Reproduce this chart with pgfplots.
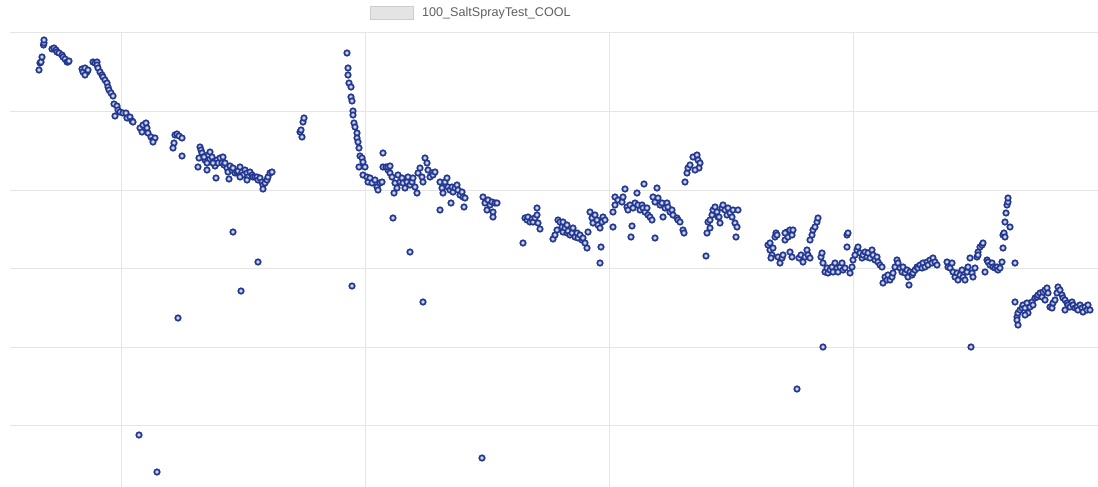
\documentclass[border=0pt]{standalone}
\usepackage{pgfplots}
\pgfplotsset{compat=1.18}
\usepackage{fontspec}
\setmainfont{Liberation Sans}
\definecolor{gridc}{RGB}{229,229,229}
\definecolor{markd}{RGB}{35,55,145}
\definecolor{markf}{RGB}{205,215,240}
\definecolor{legf}{RGB}{228,228,228}
\definecolor{legd}{RGB}{205,205,205}
\definecolor{legt}{RGB}{95,95,95}
\begin{document}
\begin{tikzpicture}
\useasboundingbox (-5pt,0pt) rectangle (544pt,243.5pt);
\begin{axis}[
  at={(0pt,0pt)}, anchor=south west,
  scale only axis, width=544pt, height=227pt,
  xmin=10, xmax=1098, ymin=33, ymax=487, y dir=reverse,
  axis line style={draw=none},
  xtick={121,365,609,853}, ytick={33,111.5,190,268.5,347,425.5},
  xticklabels={}, yticklabels={}, major tick length=0pt,
  grid=major, grid style={gridc, line width=0.5pt},
  legend style={at={(axis cs:370,13)}, anchor=west, draw=none, fill=none,
    inner sep=0pt, font=\fontsize{6.3pt}{7.5pt}\selectfont\color{legt},
    /tikz/every even column/.append style={column sep=0pt}},
  legend cell align=left,
  clip=false,
]
\addplot[only marks, mark=*, mark size=1.35pt,
  mark options={draw=markd, fill=markf, line width=0.85pt},
  legend image code/.code={\draw[legd, fill=legf, line width=0.4pt] (0pt,-3.3pt) rectangle (21.5pt,3.3pt);}]
coordinates {
(39,70)(40,63)(41,62)(42,57)(43.5,45)(44,43)(44,40)
(52,49)(54,48)(56,50)(57,52)(59,53)(62,55)(63,57)(65,59)(67,62)(68,62)(69,61)
(82,69)(83,72)(85,68)(87,72)(88,70)(85,75)
(93,62)(95,63)(97,62)(97,65)(98,68)(100,72)(102,75)(103,77)(105,80)(107,83)(108,87)(109,90)(111,93)(113,96)
(114,104)(117,106)(115,116)(118,110)(120,112)(123,113)(126,113)(127,118)(130,117)(132,121)(133,122)
(140,128)(142,132)(143,125)(146,123)(147,128)(148,133)(151,137)(153,140)(155,138)(153,142)
(175,135)(177,134)(179,136)(182,138)(174,143)(173,148)(182,156)
(200,147)(201,150)(202,153)(203,157)(199,158)(198,167)(205,160)(207,163)(208,155)(210,152)(212,157)(213,162)
(207,170)(215,166)(217,160)(218,163)(220,158)(222,163)(223,157)(224,165)(216,178)(227,168)(228,172)(230,166)
(232,170)(233,168)(235,173)(237,172)(238,171)(240,167)(242,172)(243,175)(245,170)(247,173)(248,177)(250,172)
(252,175)(253,177)(255,177)(257,177)(258,180)(260,178)(262,182)(263,185)(263,189)(265,183)(267,180)(268,177)
(270,173)(272,172)(229,179)(240,177)(247,180)(204,157)(213,163)(225,163)
(233,232)(241,291)(258,262)(178,318)(139,435)(157,472)
(300,132)(301,130)(302,137)(303,122)(304,118)
(347,53)(348,68)(348,75)(349,83)(351,87)(351,97)(352,101)(353,111)(353,115)(354,123)(355,127)(357,133)(357,138)
(358,142)(359,148)(360,156)(362,158)(359,167)(363,162)(365,167)(363,175)(367,177)(368,182)(370,178)(372,183)
(375,180)(377,187)(378,190)(380,183)(382,182)(383,153)(383,167)(386,167)(388,170)(390,173)(392,177)(388,167)
(390,166)(395,183)(394,193)(397,188)(398,175)(400,182)(402,178)(403,183)(405,188)(407,182)(408,177)(410,185)
(412,182)(413,178)(415,187)(417,193)(418,173)(420,168)(422,177)(423,182)(425,158)(427,163)(428,170)(430,177)
(432,173)(433,175)(435,172)(393,218)(440,182)(440,210)(410,252)(352,286)(423,302)(482,458)
(442,188)(443,193)(445,182)(447,178)(448,187)(450,190)(452,187)(453,192)(455,188)(457,185)(458,190)(460,195)
(462,192)(463,197)(465,198)(451,203)(464,207)
(483,197)(485,203)(487,210)(488,200)(490,205)(492,202)(493,212)(495,203)(497,203)(493,217)
(523,243)(525,218)(527,220)(528,217)(530,222)(532,219)(533,222)(535,218)(537,215)(537,208)(538,223)(540,229)
(553,239)(555,235)(557,230)(558,220)(560,222)(562,227)(563,232)(565,228)(567,233)(568,231)(570,235)(572,233)
(573,228)(575,237)(577,233)(578,238)(580,235)(582,240)(583,238)(585,243)(587,248)(588,232)(563,222)(567,225)
(590,212)(592,218)(593,223)(595,215)(597,220)(598,225)(600,228)(602,222)(603,217)(605,220)(601,247)(600,263)
(613,227)(613,212)(615,205)(615,197)(618,200)(622,202)(623,197)(625,189)(627,207)(628,210)(630,205)(632,226)
(631,237)(633,208)(635,203)(637,193)(638,205)(640,210)(642,205)(643,208)(645,212)(647,208)(648,215)(650,217)
(652,220)(644,184)(653,197)(655,202)(657,188)(658,198)(660,205)(662,203)(663,217)(655,238)(665,208)(667,203)
(668,207)(670,212)(672,210)(673,215)(677,218)(678,220)(680,222)(683,230)(684,233)
(685,182)(687,173)(688,168)(690,165)(693,157)(697,155)(698,160)(700,163)(699,168)(695,170)
(706,256)(707,233)(708,222)(710,220)(712,215)(713,210)(715,207)(717,212)(718,217)(720,223)(722,208)(723,205)
(725,210)(727,215)(728,208)(730,213)(732,217)(733,210)(735,223)(737,227)(738,210)(736,237)(710,228)(719,217)
(768,245)(770,250)(772,255)(771,258)(773,248)(775,237)(776,233)(778,257)(780,263)(782,258)(783,255)(785,240)
(787,232)(788,237)(790,230)(792,235)(793,230)(790,252)(792,257)(799,258)(801,255)(803,262)(805,257)(807,250)
(808,255)(810,240)(812,235)(813,230)(815,227)(817,222)(818,218)(810,258)(770,243)(777,235)(785,233)
(821,257)(822,253)(823,263)(825,272)(827,268)(828,273)(830,270)(832,267)(833,272)(835,263)(837,268)(838,272)
(840,267)(842,263)(843,270)(845,268)(847,235)(847,247)(848,233)(850,273)(852,267)(853,260)(855,255)(857,250)
(858,247)(860,253)(862,258)(863,255)(865,252)(867,257)(868,253)(870,258)(872,250)(873,255)(875,260)(877,257)
(878,262)(880,265)(882,267)(885,277)(883,283)(887,280)
(797,389)(823,347)(971,347)
(888,275)(890,280)(892,277)(893,273)(895,267)(897,260)(898,263)(900,268)(902,272)(903,267)(905,273)(907,270)
(908,277)(909,285)(910,272)(912,275)(913,273)(915,270)(917,267)(918,268)(920,265)(922,268)(923,263)(925,267)
(927,262)(928,265)(930,260)(932,263)(933,258)(935,262)(937,265)
(947,262)(948,267)(950,268)(952,263)(953,272)(955,277)(957,273)(958,280)(960,275)(962,270)(963,277)(965,280)
(967,272)(968,267)(970,258)(972,273)(973,277)(975,268)(977,257)(978,252)(980,247)(982,245)(983,243)(978,255)
(985,272)(987,260)(988,262)(990,265)(992,263)(993,267)(995,268)(997,267)(998,270)(1000,268)(1002,262)(1003,248)
(1003,235)(1004,233)(1005,222)(1006,213)(1007,205)(1008,202)(1008,198)(1010,227)(1005,237)(1015,263)
(1015,302)(1017,317)(1018,313)(1017,320)(1018,325)(1020,310)(1022,308)(1023,305)(1025,308)(1027,303)(1028,313)(1030,307)
(1032,302)(1033,305)(1035,298)(1037,297)(1038,295)(1040,293)(1042,297)(1043,292)(1045,290)(1047,288)(1048,293)
(1050,307)(1052,308)(1053,303)(1055,300)(1057,293)(1058,287)(1060,290)(1062,295)(1063,298)(1065,300)(1067,303)
(1068,305)(1070,307)(1072,302)(1073,305)(1075,308)(1077,307)(1078,310)(1080,305)(1082,308)(1083,312)(1085,307)
(1087,310)(1088,305)(1090,310)(1025,315)(1045,300)(1065,310)
};
\addlegendentry{\hspace{2pt}100\_SaltSprayTest\_COOL}
\end{axis}
\end{tikzpicture}
\end{document}
